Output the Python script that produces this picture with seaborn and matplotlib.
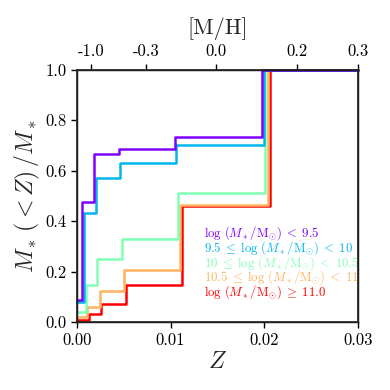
import numpy as np
import pandas as pd
import matplotlib
matplotlib.use("Agg")
import matplotlib.pyplot as plt
import seaborn as sns

# ---- data ----
labels = [
    r"$\log\,(M_*/\mathrm{M}_{\odot})\;<\;9.5$",
    r"$9.5\;\leq\;\log\,(M_*/\mathrm{M}_{\odot})\;<\;10$",
    r"$10\;\leq\;\log\,(M_*/\mathrm{M}_{\odot})\;<\;10.5$",
    r"$10.5\;\leq\;\log\,(M_*/\mathrm{M}_{\odot})\;<\;11$",
    r"$\log\,(M_*/\mathrm{M}_{\odot})\;\geq\;11.0$",
]
z_purple = [0.0, 0.00050, 0.00178, 0.00445, 0.01043, 0.01975, 0.03]
f_purple = [0.086, 0.477, 0.665, 0.686, 0.735, 1.0, 1.0]
z_blue = [0.0, 0.00079, 0.00200, 0.00459, 0.01057, 0.01993, 0.03]
f_blue = [0.080, 0.431, 0.570, 0.632, 0.703, 1.0, 1.0]
z_green = [0.0, 0.00096, 0.00218, 0.00480, 0.01078, 0.02011, 0.03]
f_green = [0.040, 0.146, 0.252, 0.329, 0.513, 1.0, 1.0]
z_orange = [0.0, 0.00107, 0.00242, 0.00498, 0.01096, 0.02036, 0.03]
f_orange = [0.020, 0.060, 0.122, 0.208, 0.466, 1.0, 1.0]
z_red = [0.0, 0.00128, 0.00260, 0.00520, 0.01118, 0.02057, 0.03]
f_red = [0.010, 0.033, 0.070, 0.146, 0.462, 1.0, 1.0]

z_series = [z_purple, z_blue, z_green, z_orange, z_red]
f_series = [f_purple, f_blue, f_green, f_orange, f_red]

x_ticks = [0.0, 0.01, 0.02, 0.03]
y_ticks = [0.0, 0.2, 0.4, 0.6, 0.8, 1.0]
z_sun = 0.0148
mh_ticks = [-1.0, -0.3, 0.0, 0.2]
mh_labels = ["-1.0", "-0.3", "0.0", "0.2", "0.3"]

# ---- style ----
sns.set_theme(style="ticks")
plt.rcParams["font.family"] = ["serif"]
plt.rcParams["font.serif"] = ["cmr10", "DejaVu Serif"]
plt.rcParams["mathtext.fontset"] = "cm"
plt.rcParams["axes.formatter.use_mathtext"] = True
plt.rcParams["axes.unicode_minus"] = False

colors = [plt.cm.rainbow(v) for v in np.linspace(0, 1, 5)]

rows = []
for i, (zs, fs) in enumerate(zip(z_series, f_series)):
    for z, f in zip(zs, fs):
        rows.append({"Z": z, "frac": f, "group": i})
df = pd.DataFrame(rows)

fig = plt.figure(figsize=(3.9, 3.9), dpi=100)
ax = fig.add_axes([0.197, 0.174, 0.721, 0.647])

for i in reversed(range(5)):
    sub = df[df["group"] == i]
    sns.lineplot(data=sub, x="Z", y="frac", ax=ax, color=colors[i],
                 drawstyle="steps-post", estimator=None, sort=False,
                 lw=1.8, legend=False, clip_on=False)

ax.set_xlim(0, 0.03)
ax.set_ylim(0, 1.0)
ax.set_xticks(x_ticks)
ax.set_xticklabels([f"{t:.2f}" for t in x_ticks])
ax.set_yticks(y_ticks)
ax.set_yticklabels([f"{t:.1f}" for t in y_ticks])
ax.tick_params(labelsize=12, direction="out", length=4, width=1, colors="black")
ax.set_xlabel(r"$Z$", fontsize=17, labelpad=2)
ax.set_ylabel(r"$M_*\,(<Z)\,/M_*$", fontsize=17, labelpad=2)
for s in ax.spines.values():
    s.set_color("black")
    s.set_linewidth(1.0)

# top axis in [M/H]
ax2 = ax.twiny()
ax2.set_xlim(ax.get_xlim())
top_pos = [z_sun * 10 ** m for m in mh_ticks] + [0.03]
ax2.set_xticks(top_pos)
ax2.set_xticklabels(mh_labels)
ax2.tick_params(labelsize=12, direction="out", length=4, width=1, colors="black")
ax2.set_xlabel("[M/H]", fontsize=16, labelpad=7)

# coloured text legend
for i, lab in enumerate(labels):
    ax.text(0.452, 0.352 - i * 0.0585, lab, color=colors[i], fontsize=9.2,
            transform=ax.transAxes, ha="left", va="center")

fig.savefig("out.png", dpi=100)
